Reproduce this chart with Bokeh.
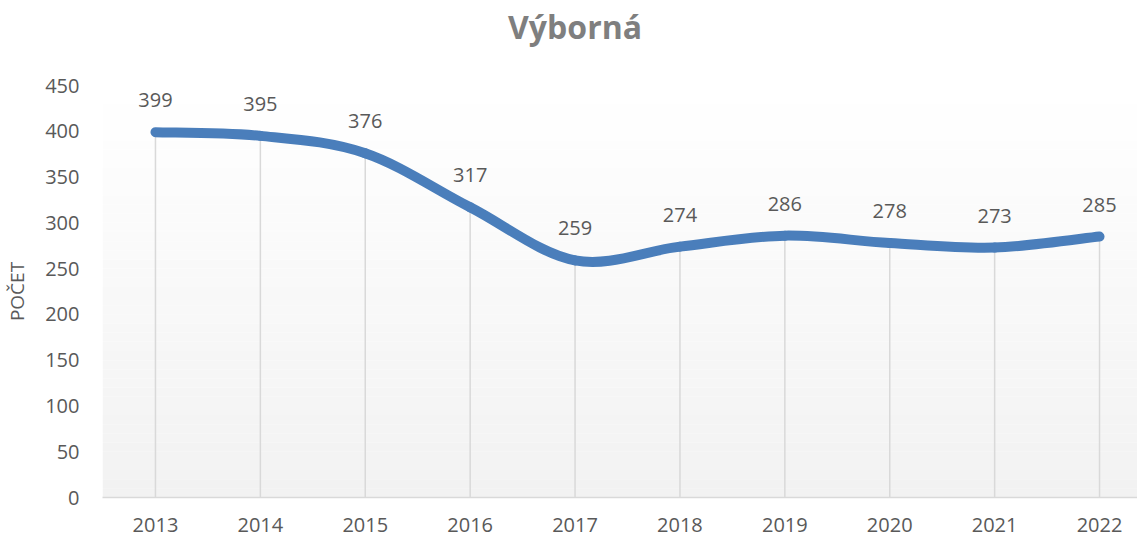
from bokeh.plotting import figure
from bokeh.models import Range1d, FixedTicker, LinearAxis
from bokeh.embed import file_html
from bokeh.resources import INLINE

years = ["2013", "2014", "2015", "2016", "2017", "2018", "2019", "2020", "2021", "2022"]
counts = [399, 395, 376, 317, 259, 274, 286, 278, 273, 285]
y_ticks = [0, 50, 100, 150, 200, 250, 300, 350, 400, 450]
title_text = "Výborná"
y_label = "POČET"

FONT = "Open Sans"
GRAY = "#595959"
LINE = "#4a7ebb"

xs = list(range(len(years)))
X0, X1 = -0.505, 9.362
TITLE_X = 4

p = figure(width=1137, height=538, output_backend="svg", toolbar_location=None,
           x_range=Range1d(X0, X1), y_range=Range1d(0, 450),
           min_border_left=102, min_border_right=0, min_border_top=85, min_border_bottom=41)
p.outline_line_color = None
p.background_fill_color = "white"
p.border_fill_color = "white"
p.xgrid.visible = False
p.ygrid.visible = False
p.title.visible = False

xa = p.below[0]
ya = p.left[0]

# title as a single-label axis above the frame
ta = LinearAxis(ticker=FixedTicker(ticks=[TITLE_X]),
                major_label_overrides={TITLE_X: title_text})
ta.axis_line_color = None
ta.major_tick_line_color = None
ta.minor_tick_line_color = None
ta.major_tick_in = 0
ta.major_tick_out = 0
ta.minor_tick_in = 0
ta.minor_tick_out = 0
ta.major_label_standoff = 38
ta.major_label_text_font = FONT
ta.major_label_text_font_size = "32px"
ta.major_label_text_font_style = "bold"
ta.major_label_text_color = "#7f7f7f"
p.add_layout(ta, "above")

# gradient background (decorative bands)
n_bands = 45
for i in range(n_bands):
    b = 450 * i / n_bands
    t = 450 * (i + 1) / n_bands
    frac = i / (n_bands - 1)
    c = int(round(242 + (255 - 242) * frac))
    p.quad(left=X0, right=X1, bottom=b, top=t,
           fill_color=f"#{c:02x}{c:02x}{c:02x}", line_color=None)

# drop lines
p.segment(x0=xs, y0=[0] * len(xs), x1=xs, y1=counts, line_color="#d9d9d9", line_width=1.5)

# smoothed line via bezier (Catmull-Rom control points)
x0s, y0s, x1s, y1s, cx0s, cy0s, cx1s, cy1s = [], [], [], [], [], [], [], []
n = len(xs)
for i in range(n - 1):
    pm = (xs[max(i - 1, 0)], counts[max(i - 1, 0)])
    p0 = (xs[i], counts[i])
    p1 = (xs[i + 1], counts[i + 1])
    p2 = (xs[min(i + 2, n - 1)], counts[min(i + 2, n - 1)])
    x0s.append(p0[0]); y0s.append(p0[1])
    x1s.append(p1[0]); y1s.append(p1[1])
    cx0s.append(p0[0] + (p1[0] - pm[0]) / 6); cy0s.append(p0[1] + (p1[1] - pm[1]) / 6)
    cx1s.append(p1[0] - (p2[0] - p0[0]) / 6); cy1s.append(p1[1] - (p2[1] - p0[1]) / 6)
p.bezier(x0=x0s, y0=y0s, x1=x1s, y1=y1s, cx0=cx0s, cy0=cy0s, cx1=cx1s, cy1=cy1s,
         line_color=LINE, line_width=10, line_cap="round")

# data labels
p.text(x=xs, y=counts, text=[str(v) for v in counts], text_align="center",
       text_baseline="bottom", y_offset=-25, text_font={"value": FONT},
       text_font_size="20px", text_color=GRAY)

# bottom axis
xa.ticker = FixedTicker(ticks=xs)
xa.major_label_overrides = {i: y for i, y in enumerate(years)}
xa.major_tick_line_color = None
xa.minor_tick_line_color = None
xa.major_tick_in = 0
xa.major_tick_out = 0
xa.minor_tick_in = 0
xa.minor_tick_out = 0
xa.axis_line_color = "#d9d9d9"
xa.axis_line_width = 1.5
xa.major_label_standoff = 20
xa.major_label_text_font = FONT
xa.major_label_text_font_size = "20px"
xa.major_label_text_color = GRAY

# left axis
ya.ticker = FixedTicker(ticks=y_ticks)
ya.axis_line_color = None
ya.major_tick_line_color = None
ya.minor_tick_line_color = None
ya.major_tick_in = 0
ya.major_tick_out = 0
ya.minor_tick_in = 0
ya.minor_tick_out = 0
ya.major_label_standoff = 23
ya.major_label_text_font = FONT
ya.major_label_text_font_size = "20px"
ya.major_label_text_color = GRAY
ya.axis_label = y_label
ya.axis_label_text_font = FONT
ya.axis_label_text_font_size = "19px"
ya.axis_label_text_font_style = "normal"
ya.axis_label_text_color = GRAY
ya.axis_label_standoff = 12

open("out.html", "w").write(file_html(p, INLINE))
